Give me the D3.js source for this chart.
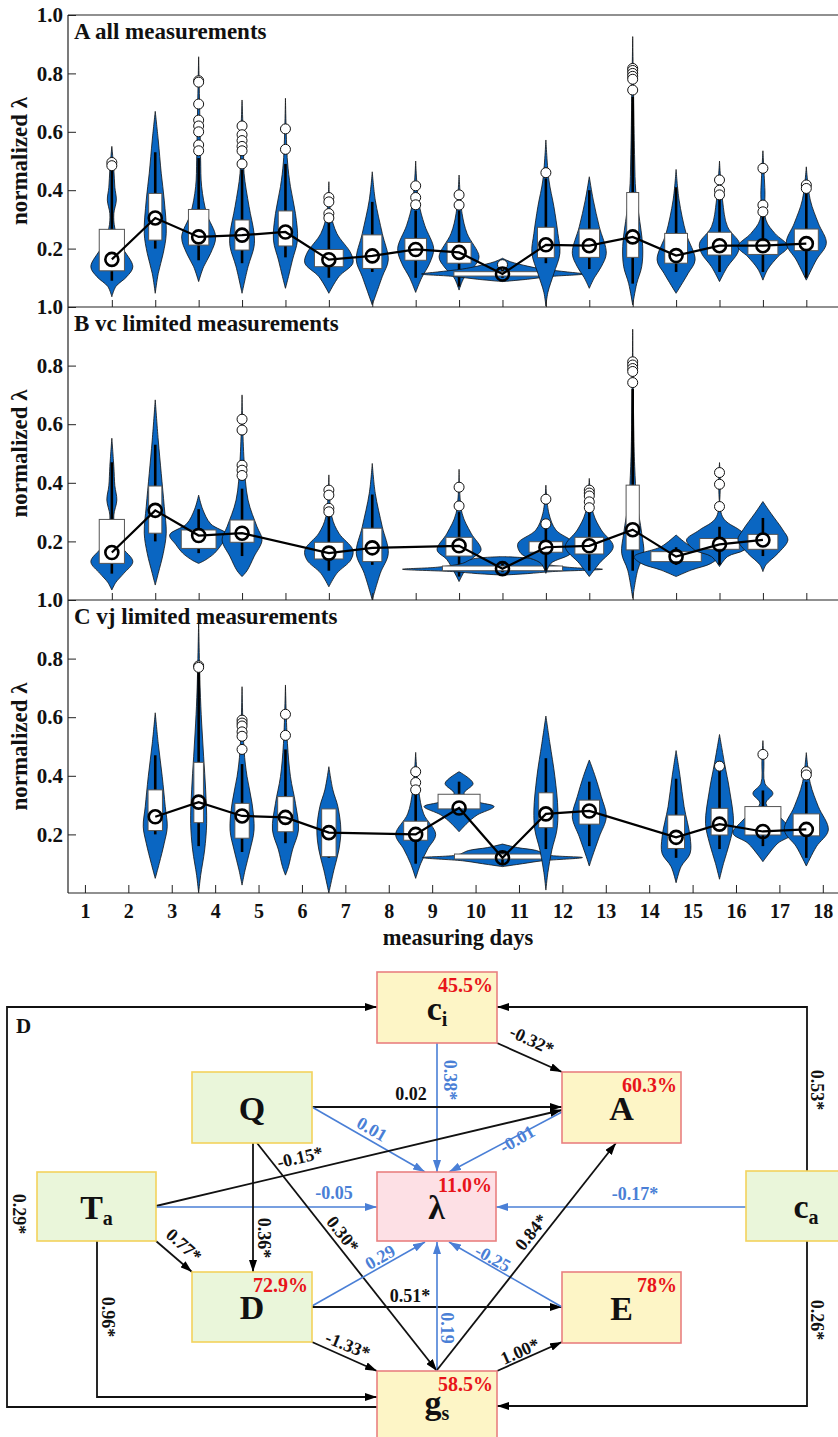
<!DOCTYPE html>
<html>
<head>
<meta charset="utf-8">
<script src="https://cdn.jsdelivr.net/npm/d3@7"></script>
<style>
  body { margin: 0; background: #fff; }
  svg { display: block; font-family: "Liberation Serif", "Times New Roman", serif; font-weight: bold; }
</style>
</head>
<body>
<svg width="838" height="1437"></svg>
<script>
// ---- Data: days and violin slots
const days = d3.range(1, 19);
const slotShift = 1.62;            // violins sit between day ticks
const allSlots = d3.range(0, 17);

// ---- Panel A: all measurements
const aSlots = allSlots;
const aMedian = [0.163, 0.305, 0.24, 0.246, 0.257, 0.162, 0.175, 0.197, 0.187, 0.113, 0.213, 0.21, 0.24, 0.176, 0.21, 0.21, 0.217];
const aQ1 = [0.124, 0.229, 0.212, 0.195, 0.209, 0.138, 0.132, 0.16, 0.15, 0.106, 0.169, 0.17, 0.17, 0.15, 0.178, 0.18, 0.193];
const aQ3 = [0.266, 0.389, 0.334, 0.298, 0.329, 0.197, 0.247, 0.235, 0.221, 0.121, 0.273, 0.267, 0.392, 0.252, 0.256, 0.227, 0.267];
const aWhisker = [[0.09, 0.47], [0.2, 0.53], [0.16, 0.51], [0.15, 0.47], [0.17, 0.49], [0.1, 0.29], [0.12, 0.36], [0.1, 0.33], [0.07, 0.33], [0.1, 0.13], [0.15, 0.44], [0.13, 0.4], [0.08, 0.72], [0.12, 0.41], [0.12, 0.37], [0.12, 0.33], [0.1, 0.39]];
const aOutliers = [[0.495, 0.484], [], [0.775, 0.77, 0.695, 0.64, 0.62, 0.6, 0.555, 0.535], [0.62, 0.59, 0.57, 0.55, 0.535, 0.49], [0.61, 0.54], [0.375, 0.36, 0.32, 0.305], [], [0.415, 0.375, 0.35], [0.384, 0.349], [0.145], [0.46], [], [0.817, 0.81, 0.8, 0.79, 0.78, 0.743], [], [0.435, 0.4, 0.384], [0.475, 0.349, 0.326], [0.418, 0.406]];
// density profiles: [value, density]
const aDensity = [
  [[0.55, 0], [0.47, 0.2], [0.41, 0.3], [0.366, 0.45], [0.32, 0.2], [0.27, 0.3], [0.207, 1.0], [0.138, 2.1], [0.104, 1.5], [0.07, 0.4], [0.035, 0]],
  [[0.67, 0], [0.572, 0.3], [0.458, 0.6], [0.366, 0.9], [0.252, 1.1], [0.184, 0.8], [0.115, 0.3], [0.047, 0]],
  [[0.857, 0], [0.6, 0.15], [0.503, 0.2], [0.412, 0.3], [0.32, 0.8], [0.24, 1.7], [0.184, 1.2], [0.138, 0.5], [0.087, 0]],
  [[0.709, 0], [0.55, 0.15], [0.458, 0.2], [0.344, 0.7], [0.252, 1.2], [0.207, 1.2], [0.138, 0.6], [0.047, 0]],
  [[0.715, 0], [0.5, 0.2], [0.412, 0.5], [0.32, 1.0], [0.229, 1.2], [0.161, 0.7], [0.104, 0.3], [0.064, 0]],
  [[0.429, 0], [0.32, 0.2], [0.252, 0.8], [0.184, 2.2], [0.15, 2.4], [0.104, 1.0], [0.047, 0]],
  [[0.463, 0], [0.366, 0.3], [0.252, 1.0], [0.161, 1.6], [0.104, 1.0], [0.007, 0]],
  [[0.5, 0], [0.36, 0.3], [0.28, 0.9], [0.2, 1.8], [0.15, 1.4], [0.1, 0.6], [0.05, 0]],
  [[0.452, 0], [0.32, 0.3], [0.252, 0.8], [0.172, 2.0], [0.138, 1.5], [0.1, 0.5], [0.058, 0]],
  [[0.167, 0], [0.155, 0.8], [0.14, 2.5], [0.13, 4.0], [0.12, 6.5], [0.113, 8.1], [0.105, 5.0], [0.095, 2.5], [0.087, 0]],
  [[0.572, 0], [0.435, 0.3], [0.344, 0.8], [0.252, 1.2], [0.184, 1.4], [0.115, 0.8], [0.05, 0.2], [0.003, 0]],
  [[0.446, 0], [0.366, 0.4], [0.275, 1.0], [0.184, 1.7], [0.138, 1.2], [0.1, 0.5], [0.064, 0]],
  [[0.926, 0], [0.7, 0.1], [0.5, 0.2], [0.4, 0.3], [0.32, 0.6], [0.207, 1.0], [0.138, 0.9], [0.08, 0.4], [0.007, 0]],
  [[0.471, 0], [0.366, 0.3], [0.252, 1.0], [0.161, 1.9], [0.115, 1.2], [0.047, 0]],
  [[0.5, 0], [0.366, 0.3], [0.275, 0.8], [0.218, 2.0], [0.184, 1.8], [0.138, 0.8], [0.087, 0]],
  [[0.535, 0], [0.4, 0.2], [0.298, 0.3], [0.252, 1.2], [0.207, 2.5], [0.172, 1.5], [0.13, 0.5], [0.092, 0]],
  [[0.48, 0], [0.366, 0.4], [0.287, 1.2], [0.218, 2.0], [0.161, 1.0], [0.092, 0]]
];

// ---- Panel B: vc limited measurements
const bSlots = [0, 1, 2, 3, 5, 6, 8, 9, 10, 11, 12, 13, 14, 15];
const bMedian = [0.162, 0.306, 0.22, 0.228, 0.16, 0.178, 0.185, 0.107, 0.18, 0.185, 0.24, 0.148, 0.19, 0.205];
const bQ1 = [0.125, 0.228, 0.176, 0.197, 0.14, 0.131, 0.15, 0.1, 0.163, 0.157, 0.171, 0.131, 0.173, 0.173];
const bQ3 = [0.275, 0.389, 0.239, 0.273, 0.197, 0.245, 0.214, 0.116, 0.199, 0.214, 0.392, 0.165, 0.21, 0.224];
const bWhisker = [[0.09, 0.47], [0.2, 0.53], [0.16, 0.31], [0.15, 0.38], [0.1, 0.29], [0.12, 0.36], [0.08, 0.3], [0.095, 0.125], [0.1, 0.26], [0.1, 0.31], [0.1, 0.72], [0.12, 0.18], [0.12, 0.25], [0.15, 0.28]];
const bOutliers = [[], [], [], [0.617, 0.58, 0.46, 0.443, 0.425], [0.375, 0.358, 0.313, 0.301], [], [0.385, 0.321], [], [0.344, 0.26], [0.375, 0.365, 0.355, 0.335, 0.315], [0.813, 0.802, 0.79, 0.78, 0.742], [], [0.435, 0.395, 0.319], []];
const bDensity = [
  [[0.552, 0], [0.455, 0.2], [0.39, 0.3], [0.341, 0.5], [0.29, 0.2], [0.25, 0.3], [0.182, 1.0], [0.131, 2.1], [0.091, 1.2], [0.06, 0.4], [0.034, 0]],
  [[0.683, 0], [0.546, 0.3], [0.432, 0.6], [0.319, 0.9], [0.228, 1.1], [0.159, 0.8], [0.091, 0.3], [0.051, 0]],
  [[0.358, 0], [0.31, 0.4], [0.26, 1.2], [0.222, 2.9], [0.19, 2.3], [0.16, 1.6], [0.135, 0.6], [0.125, 0]],
  [[0.7, 0], [0.478, 0.2], [0.341, 0.6], [0.25, 1.5], [0.205, 2.0], [0.148, 1.2], [0.1, 0.5], [0.08, 0]],
  [[0.427, 0], [0.284, 0.3], [0.228, 1.0], [0.171, 2.4], [0.137, 2.2], [0.091, 0.8], [0.045, 0]],
  [[0.466, 0], [0.364, 0.3], [0.25, 1.0], [0.159, 1.6], [0.091, 0.8], [0.0, 0]],
  [[0.446, 0], [0.296, 0.3], [0.228, 1.2], [0.171, 2.2], [0.137, 1.2], [0.063, 0]],
  [[0.148, 0], [0.14, 3.0], [0.125, 4.0], [0.112, 6.5], [0.105, 10.0], [0.097, 5.0], [0.09, 2.5], [0.085, 0]],
  [[0.392, 0], [0.296, 0.3], [0.239, 1.0], [0.193, 2.8], [0.159, 2.5], [0.125, 0.5], [0.091, 0]],
  [[0.415, 0], [0.296, 0.4], [0.239, 1.2], [0.182, 2.4], [0.125, 1.0], [0.08, 0]],
  [[0.924, 0], [0.6, 0.1], [0.455, 0.2], [0.341, 0.4], [0.228, 0.9], [0.159, 1.1], [0.102, 0.5], [0.006, 0]],
  [[0.222, 0], [0.182, 1.5], [0.148, 4.2], [0.125, 3.5], [0.102, 1.5], [0.08, 0]],
  [[0.469, 0], [0.284, 0.3], [0.239, 2.0], [0.205, 3.3], [0.171, 2.5], [0.148, 0.8], [0.114, 0]],
  [[0.336, 0], [0.296, 0.8], [0.239, 2.0], [0.205, 2.5], [0.159, 1.5], [0.12, 0.3], [0.097, 0]]
];

// ---- Panel C: vj limited measurements
const cSlots = [1, 2, 3, 4, 5, 7, 8, 9, 10, 11, 13, 14, 15, 16];
const cMedian = [0.26, 0.31, 0.263, 0.258, 0.206, 0.2, 0.29, 0.12, 0.27, 0.28, 0.19, 0.235, 0.21, 0.217];
const cQ1 = [0.213, 0.24, 0.187, 0.209, 0.124, 0.18, 0.287, 0.116, 0.223, 0.235, 0.152, 0.198, 0.198, 0.195];
const cQ3 = [0.352, 0.446, 0.306, 0.329, 0.287, 0.245, 0.337, 0.133, 0.342, 0.317, 0.266, 0.289, 0.295, 0.27];
const cWhisker = [[0.2, 0.47], [0.16, 0.76], [0.14, 0.44], [0.17, 0.49], [0.12, 0.26], [0.1, 0.34], [0.29, 0.38], [0.1, 0.14], [0.15, 0.46], [0.16, 0.38], [0.12, 0.39], [0.15, 0.43], [0.16, 0.35], [0.12, 0.38]];
const cOutliers = [[], [0.775, 0.77], [0.59, 0.58, 0.57, 0.55, 0.535, 0.49], [0.61, 0.538], [], [0.414, 0.377, 0.352], [], [], [], [], [], [0.433], [0.473], [0.414, 0.403]];
const cDensity = [
  [[0.615, 0], [0.51, 0.3], [0.397, 0.7], [0.295, 1.0], [0.226, 1.2], [0.17, 0.9], [0.101, 0.4], [0.05, 0]],
  [[0.93, 0], [0.7, 0.15], [0.58, 0.3], [0.465, 0.5], [0.352, 0.7], [0.238, 0.8], [0.147, 0.6], [0.06, 0.2], [0.0, 0]],
  [[0.704, 0], [0.488, 0.2], [0.397, 0.5], [0.306, 1.0], [0.215, 1.2], [0.147, 0.8], [0.078, 0.3], [0.027, 0]],
  [[0.71, 0], [0.51, 0.2], [0.397, 0.5], [0.306, 1.0], [0.215, 1.3], [0.147, 0.7], [0.09, 0.3], [0.061, 0]],
  [[0.431, 0], [0.352, 0.4], [0.295, 0.9], [0.215, 1.2], [0.147, 1.0], [0.078, 0.5], [0.0, 0]],
  [[0.48, 0], [0.35, 0.3], [0.27, 0.8], [0.2, 2.0], [0.15, 1.2], [0.1, 0.5], [0.05, 0]],
  [[0.414, 0], [0.374, 1.4], [0.34, 0.5], [0.312, 1.8], [0.295, 3.5], [0.266, 1.8], [0.238, 0.8], [0.209, 0]],
  [[0.167, 0], [0.155, 1.5], [0.145, 3.4], [0.13, 4.5], [0.121, 8.0], [0.11, 4.0], [0.1, 2.0], [0.09, 0]],
  [[0.604, 0], [0.511, 0.4], [0.397, 0.9], [0.283, 1.2], [0.215, 1.1], [0.147, 0.6], [0.07, 0.2], [0.01, 0]],
  [[0.454, 0], [0.397, 0.6], [0.329, 1.2], [0.26, 1.7], [0.192, 1.0], [0.124, 0.3], [0.092, 0]],
  [[0.486, 0], [0.397, 0.4], [0.295, 0.8], [0.192, 1.4], [0.135, 1.4], [0.09, 0.5], [0.035, 0]],
  [[0.541, 0], [0.443, 0.5], [0.352, 1.0], [0.238, 1.4], [0.17, 1.0], [0.101, 0.4], [0.047, 0]],
  [[0.52, 0], [0.45, 0.1], [0.374, 0.2], [0.34, 1.0], [0.306, 0.3], [0.249, 2.0], [0.204, 3.0], [0.17, 1.5], [0.13, 0.5], [0.107, 0]],
  [[0.479, 0], [0.374, 0.4], [0.295, 1.2], [0.215, 2.2], [0.158, 1.0], [0.092, 0]]
];

const panelTitles = ['A all measurements', 'B vc limited measurements', 'C vj limited measurements'];
const yTicks = [0.2, 0.4, 0.6, 0.8, 1.0];

// ---- Data: path diagram (panel D)
const nodeIds = ['ci', 'Q', 'A', 'Ta', 'lam', 'ca', 'D', 'E', 'gs'];
const nodeBase = ['c', 'Q', 'A', 'T', 'λ', 'c', 'D', 'E', 'g'];
const nodeSub = ['i', '', '', 'a', '', 'a', '', '', 's'];
const nodeR2 = ['45.5%', '', '60.3%', '', '11.0%', '', '72.9%', '78%', '58.5%'];
const nodeType = ['endo', 'exo', 'endo', 'exo', 'target', 'exo', 'exo', 'endo', 'endo'];

const edgeFrom = ['gs', 'Ta', 'ca', 'ca', 'ci', 'ci', 'Q', 'Q', 'A', 'Ta', 'Ta', 'ca', 'Q', 'Q', 'Ta', 'D', 'D', 'D', 'E', 'gs', 'gs', 'gs'];
const edgeTo = ['ci', 'gs', 'ci', 'gs', 'A', 'lam', 'A', 'lam', 'lam', 'A', 'lam', 'lam', 'D', 'gs', 'D', 'lam', 'E', 'gs', 'lam', 'lam', 'A', 'E'];
const edgeCoef = ['0.29*', '0.96*', '0.53*', '0.26*', '-0.32*', '0.38*', '0.02', '0.01', '-0.01', '-0.15*', '-0.05', '-0.17*', '0.36*', '0.30*', '0.77*', '0.29', '0.51*', '-1.33*', '-0.25', '0.19', '0.84*', '1.00*'];

// ---- Layout of the diagram
const nodeBox = {
  ci: [377, 972, 497, 1043], Q: [192, 1072, 312, 1143], A: [562, 1072, 681, 1143],
  Ta: [37, 1172, 156, 1241], lam: [377, 1172, 496, 1241], ca: [746, 1171, 870, 1241],
  D: [192, 1272, 312, 1342], E: [562, 1272, 681, 1343], gs: [377, 1371, 497, 1460]
};
const edgeRoute = [
  [[377, 1407], [7, 1407], [7, 1007], [377, 1007]],
  [[97, 1241], [97, 1397], [377, 1397]],
  [[807, 1171], [807, 1007], [497, 1007]],
  [[807, 1241], [807, 1406], [497, 1406]],
  [[497, 1043], [562, 1072]],
  [[437, 1043], [437, 1172]],
  [[312, 1107], [562, 1107]],
  [[312, 1107], [425, 1172]],
  [[562, 1112], [449, 1172]],
  [[156, 1206], [562, 1110]],
  [[156, 1207], [377, 1207]],
  [[746, 1207], [496, 1207]],
  [[253, 1143], [253, 1272]],
  [[257, 1143], [437, 1371]],
  [[156, 1241], [192, 1272]],
  [[312, 1306], [425, 1242]],
  [[312, 1307], [562, 1307]],
  [[312, 1342], [377, 1371]],
  [[562, 1307], [449, 1242]],
  [[437, 1371], [437, 1242]],
  [[437, 1370], [616, 1143]],
  [[497, 1371], [562, 1342]]
];
const edgeLabelPos = [
  [19, 1214, 90], [108, 1317, 90], [817, 1090, 90], [817, 1320, 90],
  [532, 1040, 25], [450, 1080, 90], [411, 1094, 0], [372, 1129, 30],
  [517, 1139, -30], [300, 1157, -13], [334, 1193, 0], [635, 1194, 0],
  [264, 1238, 90], [343, 1234, 52], [184, 1245, 42], [380, 1257, -30],
  [410, 1296, 0], [348, 1345, 22], [493, 1258, 29], [447, 1328, 90],
  [531, 1232, -51], [520, 1351, -24]
];

// ---- Styles
const violinBlue = '#0a66c2';
const pathBlue = '#4a7fd6';
const nodeFill = { exo: '#eaf6da', endo: '#fdf5c6', target: '#fde0e5' };
const nodeStroke = { exo: '#f3d35c', endo: '#e98080', target: '#e98080' };

const svg = d3.select('svg');

// ---- Violin panels
const x = d3.scaleLinear().domain([0.61, 18.35]).range([68, 838]);
const wScale = d3.scaleLinear().domain([0, 1]).range([0, 10]);
const frameL = 68, frameR = 838;

const panels = [
  { top: 15, bottom: 307, slots: aSlots, median: aMedian, q1: aQ1, q3: aQ3, whisker: aWhisker, outliers: aOutliers, dens: aDensity },
  { top: 307, bottom: 600, slots: bSlots, median: bMedian, q1: bQ1, q3: bQ3, whisker: bWhisker, outliers: bOutliers, dens: bDensity },
  { top: 600, bottom: 893, slots: cSlots, median: cMedian, q1: cQ1, q3: cQ3, whisker: cWhisker, outliers: cOutliers, dens: cDensity }
];

panels.forEach((p, pi) => {
  const y = d3.scaleLinear().domain([0, 1]).range([p.bottom, p.top]);
  const g = svg.append('g');

  p.slots.forEach((s, i) => {
    const cx = x(s + slotShift);
    const area = d3.area()
      .curve(d3.curveCatmullRom.alpha(0.5))
      .y(d => y(d[0]))
      .x0(d => cx - wScale(d[1]))
      .x1(d => cx + wScale(d[1]));

    g.append('path')
      .attr('d', area(p.dens[i]))
      .attr('fill', violinBlue)
      .attr('stroke', '#111')
      .attr('stroke-width', 0.8);

    g.append('line')
      .attr('x1', cx).attr('x2', cx)
      .attr('y1', y(p.whisker[i][0])).attr('y2', y(p.whisker[i][1]))
      .attr('stroke', '#000')
      .attr('stroke-width', 2.6);

    // box width follows the violin's peak density
    const bw = wScale(0.6 * d3.max(p.dens[i], d => d[1]));
    g.append('rect')
      .attr('x', cx - bw).attr('width', 2 * bw)
      .attr('y', y(p.q3[i])).attr('height', y(p.q1[i]) - y(p.q3[i]))
      .attr('fill', '#fff')
      .attr('stroke', '#555')
      .attr('stroke-width', 1);

    g.selectAll(null)
      .data(p.outliers[i])
      .join('circle')
      .attr('cx', cx)
      .attr('cy', d => y(d))
      .attr('r', 5)
      .attr('fill', '#fff')
      .attr('stroke', '#111')
      .attr('stroke-width', 1);
  });

  // ---- Median line
  const pts = p.slots.map((s, i) => [x(s + slotShift), y(p.median[i])]);
  g.append('path')
    .attr('d', d3.line()(pts))
    .attr('fill', 'none')
    .attr('stroke', '#000')
    .attr('stroke-width', 2.2);
  g.selectAll('.med')
    .data(pts)
    .join('circle')
    .attr('class', 'med')
    .attr('cx', d => d[0]).attr('cy', d => d[1])
    .attr('r', 6.5)
    .attr('fill', 'none')
    .attr('stroke', '#000')
    .attr('stroke-width', 2.6);

  // ---- Y axis
  const yAxis = d3.axisLeft(y)
    .tickValues(yTicks)
    .tickSize(-8)
    .tickPadding(5)
    .tickFormat(d3.format('.1f'));
  const ya = svg.append('g')
    .attr('transform', `translate(${frameL},0)`)
    .call(yAxis);
  ya.select('.domain').remove();
  ya.selectAll('line').attr('stroke', '#222').attr('stroke-width', 1);
  ya.selectAll('text')
    .attr('font-size', 21)
    .attr('font-family', '"Liberation Serif", serif')
    .attr('font-weight', 'bold')
    .attr('fill', '#111');

  // ---- Bottom ticks
  if (pi < 2) {
    const xa = svg.append('g')
      .attr('transform', `translate(0,${p.bottom})`)
      .call(d3.axisBottom(x).tickValues(allSlots.map(s => s + slotShift)).tickSize(-7).tickSizeOuter(0).tickFormat(''));
    xa.select('.domain').remove();
    xa.selectAll('line').attr('stroke', '#222');
  } else {
    const xa = svg.append('g')
      .attr('transform', `translate(0,${p.bottom})`)
      .call(d3.axisBottom(x).tickValues(days).tickSize(-8).tickSizeOuter(0).tickPadding(11).tickFormat(d3.format('d')));
    xa.select('.domain').remove();
    xa.selectAll('line').attr('stroke', '#222');
    xa.selectAll('text')
      .attr('font-size', 20)
      .attr('font-family', '"Liberation Serif", serif')
      .attr('font-weight', 'bold')
      .attr('fill', '#111');
  }

  // ---- Title and y label
  svg.append('text')
    .attr('x', 74).attr('y', p.top + 24)
    .attr('font-size', 23)
    .attr('fill', '#111')
    .text(panelTitles[pi]);

  svg.append('text')
    .attr('transform', `translate(27,${(p.top + p.bottom) / 2}) rotate(-90)`)
    .attr('text-anchor', 'middle')
    .attr('font-size', 23)
    .attr('fill', '#111')
    .text('normalized λ');
});

// ---- Frame lines
svg.append('line').attr('x1', frameL).attr('x2', frameL).attr('y1', 15).attr('y2', 893).attr('stroke', '#222').attr('stroke-width', 1.2);
[15, 307, 600, 893].forEach(yy => {
  svg.append('line').attr('x1', frameL).attr('x2', frameR).attr('y1', yy).attr('y2', yy).attr('stroke', '#222').attr('stroke-width', 1.2);
});

svg.append('text')
  .attr('x', 458).attr('y', 945)
  .attr('text-anchor', 'middle')
  .attr('font-size', 22.5)
  .attr('fill', '#111')
  .text('measuring days');

// ---- Panel D: path diagram
const defs = svg.append('defs');
[['arrBlack', '#000'], ['arrBlue', pathBlue]].forEach(([id, col]) => {
  defs.append('marker')
    .attr('id', id)
    .attr('viewBox', '0 0 12 8')
    .attr('refX', 12).attr('refY', 4)
    .attr('markerWidth', 12).attr('markerHeight', 8)
    .attr('markerUnits', 'userSpaceOnUse')
    .attr('orient', 'auto')
    .append('path')
    .attr('d', 'M0,0 L12,4 L0,8 Z')
    .attr('fill', col);
});

const dg = svg.append('g');

dg.append('text')
  .attr('x', 16).attr('y', 1033)
  .attr('font-size', 21)
  .attr('fill', '#111')
  .text('D');

const edges = edgeFrom.map((f, i) => ({
  from: f, to: edgeTo[i], coef: edgeCoef[i],
  route: edgeRoute[i], label: edgeLabelPos[i],
  blue: edgeTo[i] === 'lam'
}));

dg.selectAll('.edge')
  .data(edges)
  .join('path')
  .attr('class', 'edge')
  .attr('d', d => d3.line()(d.route))
  .attr('fill', 'none')
  .attr('stroke', d => d.blue ? pathBlue : '#111')
  .attr('stroke-width', d => d.blue ? 1.6 : 1.8)
  .attr('marker-end', d => d.blue ? 'url(#arrBlue)' : 'url(#arrBlack)');

const nodes = nodeIds.map((id, i) => ({ id, base: nodeBase[i], sub: nodeSub[i], r2: nodeR2[i], type: nodeType[i], box: nodeBox[id] }));

const ng = dg.selectAll('.node')
  .data(nodes)
  .join('g')
  .attr('class', 'node');

ng.append('rect')
  .attr('x', d => d.box[0]).attr('y', d => d.box[1])
  .attr('width', d => d.box[2] - d.box[0]).attr('height', d => d.box[3] - d.box[1])
  .attr('fill', d => nodeFill[d.type])
  .attr('stroke', d => nodeStroke[d.type])
  .attr('stroke-width', 1.6);

ng.each(function (d) {
  const b = d.box;
  const cx = d.id === 'ca' ? 806 : (b[0] + b[2]) / 2;
  const cy = d.id === 'gs' ? 1402 : (b[1] + b[3]) / 2;
  const t = d3.select(this).append('text')
    .attr('x', cx).attr('y', cy + 12)
    .attr('text-anchor', 'middle')
    .attr('font-size', 34)
    .attr('fill', '#111');
  t.append('tspan').text(d.base);
  if (d.sub) {
    t.append('tspan').attr('font-size', 20).attr('dy', 6).text(d.sub);
  }
  if (d.r2) {
    d3.select(this).append('text')
      .attr('x', Math.min(b[2], 838) - 4).attr('y', b[1] + 20)
      .attr('text-anchor', 'end')
      .attr('font-size', 20)
      .attr('fill', '#e8141a')
      .text(d.r2);
  }
});

dg.selectAll('.elab')
  .data(edges)
  .join('text')
  .attr('class', 'elab')
  .attr('transform', d => `translate(${d.label[0]},${d.label[1]}) rotate(${d.label[2]})`)
  .attr('text-anchor', 'middle')
  .attr('dy', '0.35em')
  .attr('font-size', 18)
  .attr('fill', d => d.blue ? pathBlue : '#111')
  .text(d => d.coef);
</script>
</body>
</html>
